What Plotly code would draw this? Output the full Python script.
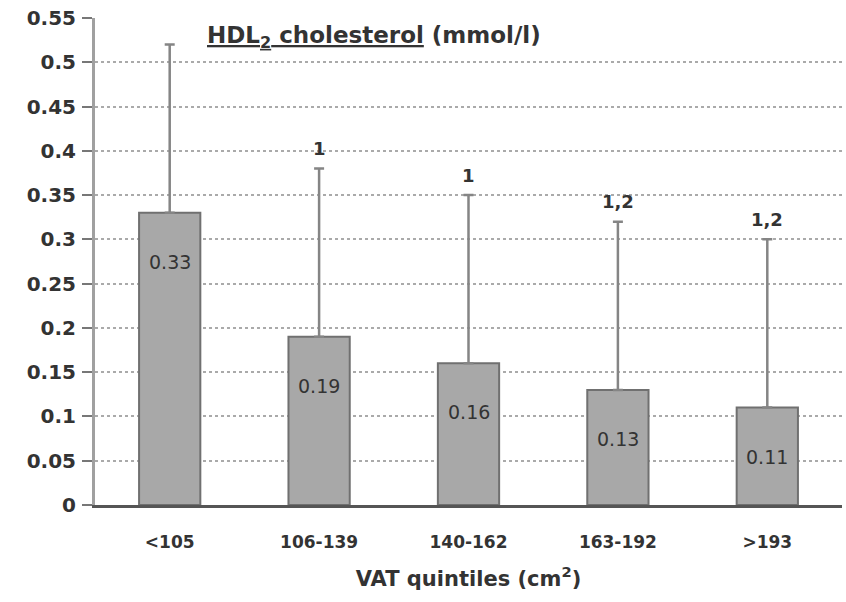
import plotly.graph_objects as go

categories = ["<105", "106-139", "140-162", "163-192", ">193"]
means = [0.33, 0.19, 0.16, 0.13, 0.11]
upper = [0.52, 0.38, 0.35, 0.32, 0.30]
sig_labels = ["", "1", "1", "1,2", "1,2"]
value_labels = ["0.33", "0.19", "0.16", "0.13", "0.11"]
y_ticks = [0, 0.05, 0.1, 0.15, 0.2, 0.25, 0.3, 0.35, 0.4, 0.45, 0.5, 0.55]
y_ticktext = ["0", "0.05", "0.1", "0.15", "0.2", "0.25", "0.3", "0.35", "0.4", "0.45", "0.5", "0.55"]

err_plus = [u - m for u, m in zip(upper, means)]
FONT = "DejaVu Sans"

fig = go.Figure()
fig.add_trace(go.Bar(
    x=categories, y=means,
    marker=dict(color="#a8a8a8", line=dict(color="#707070", width=2)),
    width=0.41,
    error_y=dict(type="data", symmetric=False, array=err_plus, arrayminus=[0]*5,
                 color="#858585", thickness=2.5, width=5),
    showlegend=False,
))

annotations = []
for c, m, t in zip(categories, means, value_labels):
    annotations.append(dict(x=c, y=m, text=t, showarrow=False, yshift=-49,
                            font=dict(family=FONT, size=19, color="#333")))
for c, u, s in zip(categories, upper, sig_labels):
    if s:
        annotations.append(dict(x=c, y=u, text="<b>" + s + "</b>", showarrow=False, yshift=20,
                                font=dict(family=FONT, size=18, color="#333")))
annotations.append(dict(xref="paper", yref="paper", x=0.147, y=0.96, xanchor="left", yanchor="middle",
                        text="<b><u>HDL<sub>2</sub> cholesterol</u> (mmol/l)</b>", showarrow=False,
                        font=dict(family=FONT, size=23, color="#333")))

fig.update_layout(
    width=846, height=602,
    margin=dict(l=95, r=4, t=18, b=97),
    plot_bgcolor="white", paper_bgcolor="white",
    annotations=annotations,
    xaxis=dict(
        showline=True, linecolor="#555", linewidth=3,
        tickfont=dict(family=FONT, size=17, color="#333", weight="bold"),
        ticks="", ticklabelstandoff=20,
        title=dict(text="<b>VAT quintiles (cm<sup>2</sup>)</b>", font=dict(family=FONT, size=21, color="#333"),
                   standoff=20),
        range=[-0.5, 4.5],
    ),
    yaxis=dict(
        range=[0, 0.55], tickvals=y_ticks, ticktext=["<b>" + t + "</b>" for t in y_ticktext],
        showgrid=True, gridcolor="#aaaaaa", griddash="dot", gridwidth=2,
        showline=True, linecolor="#a0a0a0", linewidth=3,
        ticks="outside", ticklen=10, tickcolor="#777", tickwidth=2,
        tickfont=dict(family=FONT, size=20, color="#333"),
        ticklabelstandoff=2,
        zeroline=False,
    ),
)

fig.write_html("out.html")
